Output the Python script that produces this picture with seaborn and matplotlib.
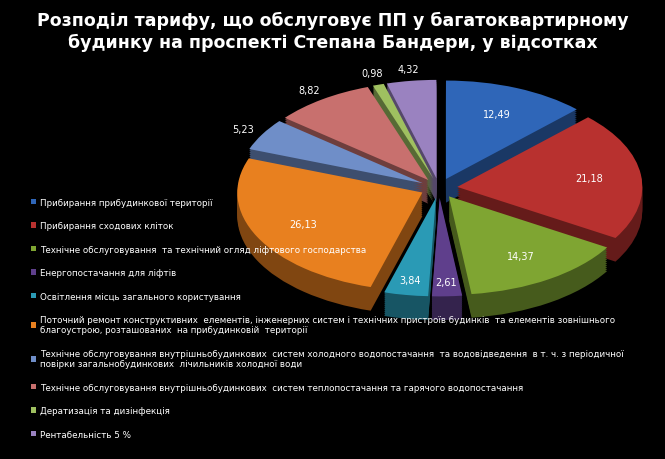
import matplotlib
matplotlib.use("Agg")
import matplotlib.pyplot as plt
import matplotlib.colors as mc
from matplotlib.patches import Patch
import numpy as np
import seaborn as sns

sns.set_theme(style="dark", rc={"figure.facecolor": "black", "axes.facecolor": "black"})

categories = [
    "Прибирання прибудинкової території",
    "Прибирання сходових кліток",
    "Технічне обслуговування  та технічний огляд ліфтового господарства",
    "Енергопостачання для ліфтів",
    "Освітлення місць загального користування",
    "Поточний ремонт конструктивних  елементів, інженерних систем і технічних пристроїв будинків  та елементів зовнішнього\nблагоустрою, розташованих  на прибудинковій  території",
    "Технічне обслуговування внутрішньобудинкових  систем холодного водопостачання  та водовідведення  в т. ч. з періодичної\nповірки загальнобудинкових  лічильників холодної води",
    "Технічне обслуговування внутрішньобудинкових  систем теплопостачання та гарячого водопостачання",
    "Дератизація та дизінфекція",
    "Рентабельність 5 %",
]
values = [12.49, 21.18, 14.37, 2.61, 3.84, 26.13, 5.23, 8.82, 0.98, 4.32]
labels = ["12,49", "21,18", "14,37", "2,61", "3,84", "26,13", "5,23", "8,82", "0,98", "4,32"]
colors = ["#2f66b8", "#b8312f", "#7fa532", "#5f3f8c", "#2a9ab5", "#e8801f",
          "#6f8ec8", "#c8706e", "#9fc060", "#9a82c0"]

fig = plt.figure(figsize=(6.65, 4.6), dpi=100)
fig.patch.set_facecolor("black")
ax = fig.add_axes([0.34, 0.30, 0.64, 0.55])
ax.set_facecolor("black")
explode = [0.1] * len(values)
dark = [tuple(c * 0.55 for c in mc.to_rgb(col)) for col in colors]
for k in range(12):
    ax.pie(values, colors=dark, startangle=90, counterclock=False, explode=explode,
           center=(0, -0.02 * (12 - k)), wedgeprops=dict(linewidth=0))
wedges, _ = ax.pie(values, colors=colors, startangle=90, counterclock=False,
                   explode=explode, wedgeprops=dict(linewidth=0))
outside = ("0,98", "8,82", "5,23", "4,32")
for w, lab in zip(wedges, labels):
    ang = np.deg2rad((w.theta1 + w.theta2) / 2)
    r = 1.12 if lab in outside else (0.85 if lab in ("3,84", "2,61") else 0.72)
    x, y = w.center[0] + r * np.cos(ang), w.center[1] + r * np.sin(ang)
    ax.text(x, y, lab, color="white", fontsize=7, ha="center", va="center")
ax.set_aspect("auto")
ax.set_xlim(-1.15, 1.15)
ax.set_ylim(-1.35, 1.22)
ax.axis("off")

fig.text(0.5, 0.975, "Розподіл тарифу, що обслуговує ПП у багатоквартирному\nбудинку на проспекті Степана Бандери, у відсотках",
         color="white", fontsize=12.5, fontweight="bold", ha="center", va="top", linespacing=1.3)

handles = [Patch(facecolor=c, edgecolor="none") for c in colors]
fig.legend(handles, categories, loc="upper left", bbox_to_anchor=(0.035, 0.585),
           frameon=False, fontsize=6.3, labelcolor="white", handlelength=0.6,
           handleheight=0.6, handletextpad=0.4, labelspacing=1.65)
plt.savefig("out.png", dpi=100, facecolor="black")
